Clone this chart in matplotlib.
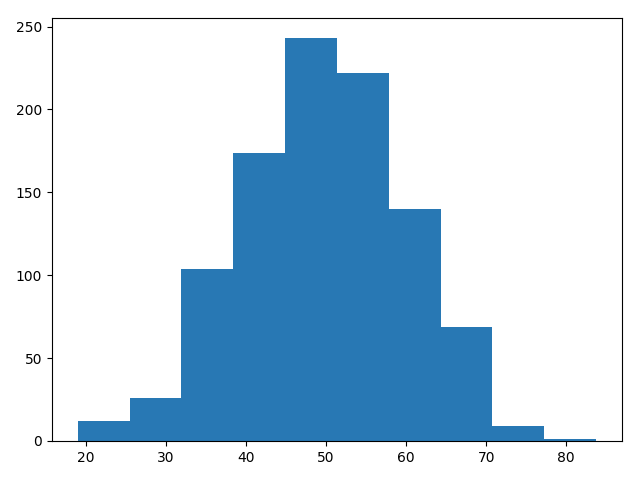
import matplotlib
matplotlib.use("Agg")
import matplotlib.pyplot as plt
import numpy as np

bin_edges = [18.96, 25.44, 31.92, 38.40, 44.88, 51.36, 57.83, 64.31, 70.79, 77.27, 83.75]
counts = [12, 26, 104, 174, 243, 222, 140, 69, 9, 1]

edges = np.array(bin_edges)
centers = (edges[:-1] + edges[1:]) / 2

fig, ax = plt.subplots(figsize=(6.4, 4.8), dpi=100)
ax.hist(centers, bins=edges, weights=counts, color='#2878b4')
fig.subplots_adjust(left=0.081, right=0.972, top=0.9625, bottom=0.0813)
fig.savefig("out.png")
